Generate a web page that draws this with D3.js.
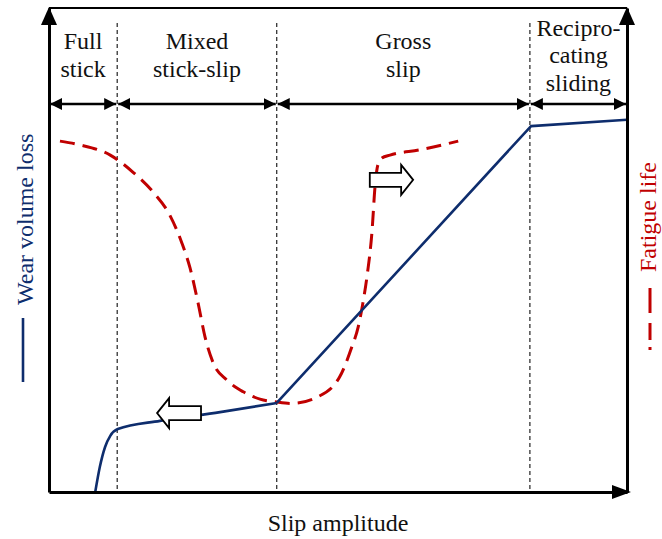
<!DOCTYPE html>
<html>
<head>
<meta charset="utf-8">
<script src="https://cdn.jsdelivr.net/npm/d3@7"></script>
<style>
  html, body { margin: 0; padding: 0; background: #fff; }
  svg { display: block; }
</style>
</head>
<body>
<svg id="chart" width="662" height="539"></svg>
<script>
// ---------------- DATA ----------------
// Slip amplitude (x) and response (y) are in arbitrary units 0..100
const regimeBounds = [0, 11.8, 39.4, 83.2, 100];
const regimeLabels = [["Full", "stick"], ["Mixed", "stick-slip"], ["Gross", "slip"], ["Recipro-", "cating", "sliding"]];

// Wear volume loss (solid navy line)
const wearX = [8.0, 8.8, 9.7, 10.6, 11.9, 19.2, 29.6, 39.4, 83.4, 100];
const wearY = [0, 5.2, 9.3, 11.6, 13.0, 14.7, 16.5, 18.4, 75.6, 76.9];
const wearSmoothUntil = 7; // index of the kink where the smooth foot ends

// Fatigue life (dashed red line)
const fatigueX = [1.9, 5.4, 10.6, 14.5, 18.0, 20.9, 23.0, 24.4, 25.8, 27.0, 28.4, 30.8, 33.6, 36.5, 39.4, 42.0,
                  46.4, 50.3, 52.4, 53.5, 54.3, 55.0, 55.9, 56.4, 56.9, 57.6, 59.0, 64.2, 70.8];
const fatigueY = [72.5, 71.7, 69.6, 66.1, 62.0, 57.2, 51.4, 46.3, 39.0, 32.0, 26.7, 23.1, 20.7, 19.2, 18.6, 18.3,
                  19.6, 23.8, 30.0, 34.1, 39.0, 44.4, 54.1, 63.0, 67.6, 69.0, 69.6, 70.7, 72.5];

// Hollow block arrows: [tailX, tipX, y]
const shiftArrows = [[26.3, 18.7, 16.3], [55.5, 63.0, 64.5]];

const xLabel = "Slip amplitude";
const leftLabel = "Wear volume loss";
const rightLabel = "Fatigue life";

// ---------------- FONT PICK ----------------
function pickFont(cands) {
  const c = document.createElement("canvas").getContext("2d");
  const s = "Wear volume loss stick-slip Recipro-";
  for (const base of ["monospace", "sans-serif"]) {
    c.font = "24px " + base;
    const w0 = c.measureText(s).width;
    for (const f of cands) {
      c.font = `24px "${f}", ${base}`;
      if (Math.abs(c.measureText(s).width - w0) > 0.5) return `"${f}", serif`;
    }
  }
  return "serif";
}
const FONT = pickFont(["Liberation Serif", "Times New Roman", "Tinos", "DejaVu Serif", "Noto Serif", "FreeSerif", "Nimbus Roman"]);

// ---------------- DRAW ----------------
const navy = "#0e2d6d";
const red = "#c00000";
const svg = d3.select("#chart");

const x = d3.scaleLinear().domain([0, 100]).range([49, 627]);
const y = d3.scaleLinear().domain([0, 100]).range([492, 8]);

// regime separators (dashed verticals)
svg.selectAll("line.sep").data(regimeBounds.slice(1, -1)).enter().append("line")
  .attr("class", "sep")
  .attr("x1", d => x(d)).attr("x2", d => x(d))
  .attr("y1", 23).attr("y2", y(0))
  .attr("stroke", "#222").attr("stroke-width", 1.2).attr("stroke-dasharray", "4,3");

// arrow marker
const defs = svg.append("defs");
defs.append("marker").attr("id", "ah")
  .attr("viewBox", "0 0 12 12").attr("refX", 12).attr("refY", 6)
  .attr("markerWidth", 12).attr("markerHeight", 12)
  .attr("markerUnits", "userSpaceOnUse")
  .attr("orient", "auto-start-reverse")
  .append("path").attr("d", "M0,0 L12,6 L0,12 Z").attr("fill", "#000");

// regime double arrows
const regimes = regimeLabels.map((lab, i) => ({ lab, a: regimeBounds[i], b: regimeBounds[i + 1] }));
svg.selectAll("line.reg").data(regimes).enter().append("line")
  .attr("class", "reg")
  .attr("x1", d => x(d.a) + 1).attr("x2", d => x(d.b) - 1)
  .attr("y1", 104).attr("y2", 104)
  .attr("stroke", "#000").attr("stroke-width", 2.5)
  .attr("marker-start", "url(#ah)").attr("marker-end", "url(#ah)");

// regime labels
regimes.forEach(r => {
  const n = r.lab.length;
  const t = svg.append("text")
    .attr("x", x((r.a + r.b) / 2))
    .attr("text-anchor", "middle")
    .style("font-family", FONT)
    .attr("font-size", 24).attr("fill", "#111");
  r.lab.forEach((s, i) => {
    t.append("tspan").attr("x", x((r.a + r.b) / 2))
      .attr("y", 63 - 13.75 * (n - 1) + 27.5 * i)
      .text(s);
  });
});

// curves
const wearPts = wearX.map((v, i) => [v, wearY[i]]);
const lineSmooth = d3.line().x(d => x(d[0])).y(d => y(d[1])).curve(d3.curveMonotoneX);
const lineStraight = d3.line().x(d => x(d[0])).y(d => y(d[1])).curve(d3.curveLinear);

const fatPts = fatigueX.map((v, i) => [v, fatigueY[i]]);
svg.append("path").attr("d", lineSmooth(fatPts))
  .attr("fill", "none").attr("stroke", red).attr("stroke-width", 3)
  .attr("stroke-dasharray", "15,8");

svg.append("path").attr("d", lineSmooth(wearPts.slice(0, wearSmoothUntil + 1)))
  .attr("fill", "none").attr("stroke", navy).attr("stroke-width", 2.6);
svg.append("path").attr("d", lineStraight(wearPts.slice(wearSmoothUntil)))
  .attr("fill", "none").attr("stroke", navy).attr("stroke-width", 2.6)
  .attr("stroke-linejoin", "round");

// hollow block arrows
shiftArrows.forEach(([tail, tip, yy]) => {
  const xt = x(tail), xp = x(tip), yc = y(yy);
  const dir = Math.sign(xp - xt);
  const headLen = 12, headH = 15, shaftH = 7;
  const xb = xp - dir * headLen;
  const p = d3.path();
  p.moveTo(xt, yc - shaftH);
  p.lineTo(xb, yc - shaftH);
  p.lineTo(xb, yc - headH);
  p.lineTo(xp, yc);
  p.lineTo(xb, yc + headH);
  p.lineTo(xb, yc + shaftH);
  p.lineTo(xt, yc + shaftH);
  p.closePath();
  svg.append("path").attr("d", p.toString())
    .attr("fill", "#fff").attr("stroke", "#000").attr("stroke-width", 1.8)
    .attr("stroke-linejoin", "miter");
});

// frame / axes (no ticks)
const gx = svg.append("g").attr("transform", `translate(0,${y(0)})`)
  .call(d3.axisBottom(x).tickValues([]).tickSizeOuter(0));
const gl = svg.append("g").attr("transform", `translate(${x(0)},0)`)
  .call(d3.axisLeft(y).tickValues([]).tickSizeOuter(0));
const gr = svg.append("g").attr("transform", `translate(${x(100)},0)`)
  .call(d3.axisRight(y).tickValues([]).tickSizeOuter(0));
[gx, gl, gr].forEach(g => g.select(".domain").attr("stroke", "#000").attr("stroke-width", 3));

// top border
svg.append("line").attr("x1", x(0)).attr("x2", x(100)).attr("y1", y(100)).attr("y2", y(100))
  .attr("stroke", "#000").attr("stroke-width", 2);

// axis arrowheads
const tri = (pts) => svg.append("path").attr("d", "M" + pts.map(p => p.join(",")).join("L") + "Z").attr("fill", "#000");
tri([[x(0) - 8, y(100) + 17], [x(0), y(100) - 1], [x(0) + 8, y(100) + 17]]);
tri([[x(100) - 8, y(100) + 17], [x(100), y(100) - 1], [x(100) + 8, y(100) + 17]]);
tri([[x(100) - 15, y(0) - 7], [x(100) + 4, y(0)], [x(100) - 15, y(0) + 7]]);

// axis labels
svg.append("text").attr("x", 338).attr("y", 531).attr("text-anchor", "middle")
  .style("font-family", FONT)
  .attr("font-size", 24).attr("fill", "#111").text(xLabel);

// left legend label
svg.append("line").attr("x1", 23).attr("x2", 23).attr("y1", 318).attr("y2", 382)
  .attr("stroke", navy).attr("stroke-width", 2.6);
svg.append("text").attr("transform", "translate(33,305) rotate(-90)")
  .style("font-family", FONT)
  .attr("font-size", 24).attr("fill", navy).text(leftLabel);

// right legend label
svg.append("line").attr("x1", 650).attr("x2", 650).attr("y1", 350).attr("y2", 288)
  .attr("stroke", red).attr("stroke-width", 3).attr("stroke-dasharray", "3,7,17,10,25,10");
svg.append("text").attr("transform", "translate(656,272) rotate(-90)")
  .style("font-family", FONT)
  .attr("font-size", 24).attr("fill", red).text(rightLabel);
</script>
</body>
</html>
